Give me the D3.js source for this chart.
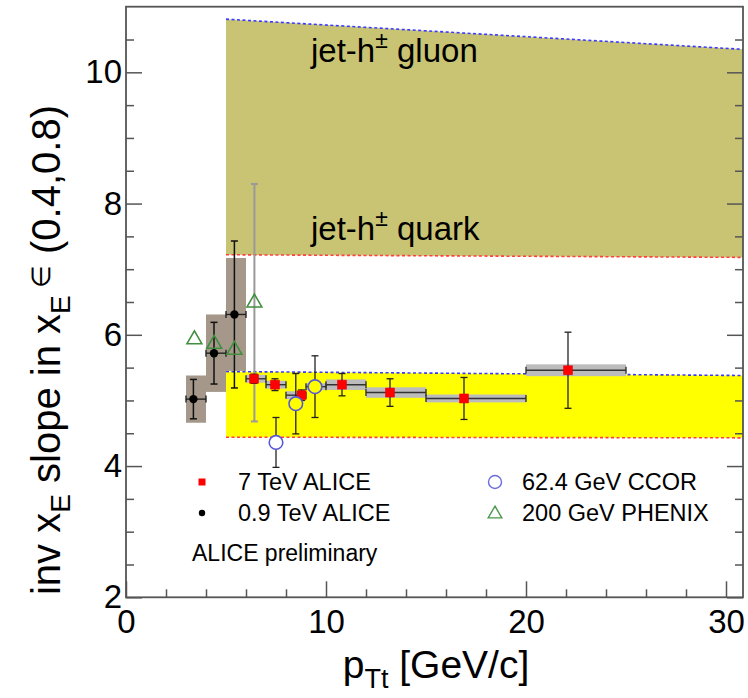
<!DOCTYPE html>
<html><head><meta charset="utf-8">
<script src="https://cdn.jsdelivr.net/npm/d3@7"></script>
<style>
body{margin:0;background:#fff}
svg{display:block}
text{font-family:"Liberation Sans",Arial,Helvetica,sans-serif;fill:#000}
</style>
</head><body>
<svg id="c" width="748" height="698"></svg>
<script>
// ---------- data ----------
const xTicks = [0, 10, 20, 30];
const yTicks = [2, 4, 6, 8, 10];
const xMinor = [2, 4, 6, 8, 12, 14, 16, 18, 22, 24, 26, 28];
const yMinor = [2.5, 3, 3.5, 4.5, 5, 5.5, 6.5, 7, 7.5, 8.5, 9, 9.5, 10.5];

const bandX = [5, 30.85];
const gluonTop = [10.81, 10.35];
const quarkLine = [7.22, 7.18];
const yellowTop = [5.44, 5.38];
const yellowBottom = [4.44, 4.43];

const alice7Lo = [6, 7, 8, 9, 10, 12, 15, 20];
const alice7Hi = [7, 8, 9, 10, 12, 15, 20, 25];
const alice7X = [6.4, 7.45, 8.78, 9.45, 10.8, 13.2, 16.9, 22.1];
const alice7Y = [5.33, 5.24, 5.08, 5.21, 5.24, 5.12, 5.03, 5.46];
const alice7Stat = [0.07, 0.09, 0.08, 0.08, 0.17, 0.21, 0.32, 0.58];
const alice7Sys = [0.06, 0.06, 0.06, 0.05, 0.08, 0.08, 0.06, 0.09];

const alice09Lo = [3, 4, 5];
const alice09Hi = [4, 5, 6];
const alice09X = [3.37, 4.4, 5.42];
const alice09Y = [5.02, 5.72, 6.31];
const alice09Stat = [0.30, 0.47, 1.12];
const alice09Sys = [0.36, 0.59, 0.86];

const ccorX = [7.5, 8.49, 9.45];
const ccorY = [4.36, 4.95, 5.21];
const ccorErr = [0.38, 0.46, 0.47];

const phenixX = [3.42, 4.41, 5.42, 6.42];
const phenixY = [5.93, 5.86, 5.77, 6.49];
const phenixErr = [0, 0, 0, 1.81];

const legendLabels = ["7 TeV ALICE", "0.9 TeV ALICE", "62.4 GeV CCOR", "200 GeV PHENIX"];

// ---------- drawing ----------
const svg = d3.select("#c");
const X0 = 126, X1 = 743, Y0 = 597.3, Y1 = 6.7;
const x = d3.scaleLinear([0, 30.85], [X0, X1]);
const y = d3.scaleLinear([2, 11], [Y0, Y1]);

const OLIVE = "#c9c473", YEL = "#ffff00";
const defs = svg.append("defs");
defs.append("clipPath").attr("id", "clip").append("rect")
  .attr("x", X0).attr("y", Y1).attr("width", X1 - X0).attr("height", Y0 - Y1);
const g = svg.append("g").attr("clip-path", "url(#clip)");

const line2 = (ys) => d3.line().x((d, i) => x(bandX[i])).y(d => y(d))(ys);
function band(top, bot, fill) {
  const pts = [[bandX[0], top[0]], [bandX[1], top[1]], [bandX[1], bot[1]], [bandX[0], bot[0]]];
  g.append("path").attr("d", d3.line().x(d => x(d[0])).y(d => y(d[1]))(pts) + "Z")
    .attr("fill", fill).attr("stroke", "none");
}
band(gluonTop, quarkLine, OLIVE);
band(yellowTop, yellowBottom, YEL);
function dash(ys, col) {
  g.append("path").attr("d", line2(ys)).attr("fill", "none")
    .attr("stroke", col).attr("stroke-width", 1.6).attr("stroke-dasharray", "3,2.5");
}
dash(gluonTop, "#3b3bff");
dash(quarkLine, "#ff4040");
dash(yellowTop, "#3b3bff");
dash(yellowBottom, "#ff4040");

// systematic boxes
const sysBox = (lo, hi, ys, sy, col) => {
  g.append("g").selectAll("rect").data(ys).join("rect")
    .attr("x", (d, i) => x(lo[i])).attr("width", (d, i) => x(hi[i]) - x(lo[i]))
    .attr("y", (d, i) => y(d + sy[i])).attr("height", (d, i) => y(d - sy[i]) - y(d + sy[i]))
    .attr("fill", col);
};
sysBox(alice09Lo, alice09Hi, alice09Y, alice09Sys, "#a5988a");
sysBox(alice7Lo, alice7Hi, alice7Y, alice7Sys, "#bcbcbc");

// error bars
function vErr(xs, ys, es, col, w) {
  const eg = g.append("g").attr("stroke", col).attr("stroke-width", w).attr("fill", "none");
  xs.forEach((xv, i) => {
    if (!es[i]) return;
    const px = x(xv), t = y(ys[i] + es[i]), b = y(ys[i] - es[i]);
    eg.append("line").attr("x1", px).attr("x2", px).attr("y1", t).attr("y2", b);
    eg.append("line").attr("x1", px - 3.5).attr("x2", px + 3.5).attr("y1", t).attr("y2", t);
    eg.append("line").attr("x1", px - 3.5).attr("x2", px + 3.5).attr("y1", b).attr("y2", b);
  });
}
function hErr(lo, hi, ys, col) {
  const eg = g.append("g").attr("stroke", col).attr("stroke-width", 1.4);
  ys.forEach((yv, i) => {
    const py = y(yv), l = x(lo[i]), r = x(hi[i]);
    eg.append("line").attr("x1", l).attr("x2", r).attr("y1", py).attr("y2", py);
    eg.append("line").attr("x1", l).attr("x2", l).attr("y1", py - 3.5).attr("y2", py + 3.5);
    eg.append("line").attr("x1", r).attr("x2", r).attr("y1", py - 3.5).attr("y2", py + 3.5);
  });
}
vErr(phenixX, phenixY, phenixErr, "#9a9a9a", 2);
hErr(alice09Lo, alice09Hi, alice09Y, "#222");
vErr(alice09X, alice09Y, alice09Stat, "#111", 1.5);
hErr(alice7Lo, alice7Hi, alice7Y, "#333");
vErr(alice7X, alice7Y, alice7Stat, "#222", 1.3);
vErr(ccorX, ccorY, ccorErr, "#222", 1.3);

// markers
const sq = d3.symbol(d3.symbolSquare, 81)();
const tri = d3.symbol(d3.symbolTriangle, 95)();
g.append("g").selectAll("path").data(alice7Y).join("path")
  .attr("d", sq).attr("transform", (d, i) => `translate(${x(alice7X[i])},${y(d)})`)
  .attr("fill", "#ff0000").attr("stroke", "#e00000").attr("stroke-width", 0.5);
g.append("g").selectAll("circle").data(alice09Y).join("circle")
  .attr("cx", (d, i) => x(alice09X[i])).attr("cy", d => y(d)).attr("r", 4.2).attr("fill", "#000");
g.append("g").selectAll("circle").data(ccorY).join("circle")
  .attr("cx", (d, i) => x(ccorX[i])).attr("cy", d => y(d)).attr("r", 6.8)
  .attr("fill", d => (d <= yellowTop[0] && d >= yellowBottom[0]) ? YEL : "#fff")
  .attr("stroke", "#5a5ad8").attr("stroke-width", 1.6);
g.append("g").selectAll("path").data(phenixY).join("path")
  .attr("d", tri).attr("transform", (d, i) => `translate(${x(phenixX[i])},${y(d)})`)
  .attr("fill", "none").attr("stroke", "#3f8f3f").attr("stroke-width", 1.6);

// axes
const axFont = 33;
const left = svg.append("g").attr("transform", `translate(${X0},0)`)
  .call(d3.axisLeft(y).tickValues(yTicks).tickSize(-16).tickSizeOuter(0).tickPadding(4).tickFormat(d3.format("d")));
svg.append("g").attr("transform", `translate(${X0},0)`)
  .call(d3.axisLeft(y).tickValues(yMinor).tickSize(-8).tickSizeOuter(0).tickFormat(""));
svg.append("g").attr("transform", `translate(${X1},0)`)
  .call(d3.axisRight(y).tickValues(yTicks).tickSize(-16).tickSizeOuter(0).tickFormat(""));
svg.append("g").attr("transform", `translate(${X1},0)`)
  .call(d3.axisRight(y).tickValues(yMinor).tickSize(-8).tickSizeOuter(0).tickFormat(""));
const bottom = svg.append("g").attr("transform", `translate(0,${Y0})`)
  .call(d3.axisBottom(x).tickValues(xTicks).tickSize(-16).tickSizeOuter(0).tickPadding(12).tickFormat(d3.format("d")));
svg.append("g").attr("transform", `translate(0,${Y0})`)
  .call(d3.axisBottom(x).tickValues(xMinor).tickSize(-8).tickSizeOuter(0).tickFormat(""));
svg.selectAll(".domain").remove();
svg.selectAll(".tick line").attr("stroke", "#555").attr("stroke-width", 1.5);
left.selectAll("text").attr("font-size", axFont).attr("font-family", null);
bottom.selectAll("text").attr("font-size", axFont).attr("font-family", null);
svg.append("rect").attr("x", X0).attr("y", Y1).attr("width", X1 - X0).attr("height", Y0 - Y1)
  .attr("fill", "none").attr("stroke", "#555").attr("stroke-width", 1.8);

// axis titles
const xt = svg.append("text").attr("x", 436).attr("y", 678).attr("text-anchor", "middle").attr("font-size", 39);
xt.append("tspan").text("p");
xt.append("tspan").attr("font-size", 27).attr("dy", 10).text("Tt");
xt.append("tspan").attr("dy", -10).text(" [GeV/c]");

const yt = svg.append("text").attr("transform", "translate(60,350) rotate(-90)")
  .attr("text-anchor", "middle").attr("font-size", 40);
yt.append("tspan").text("inv x");
yt.append("tspan").attr("font-size", 28).attr("dy", 10).text("E");
yt.append("tspan").attr("dy", -10).text(" slope in x");
yt.append("tspan").attr("font-size", 28).attr("dy", 10).text("E");
yt.append("tspan").attr("font-size", 26).attr("dy", -20).text(" \u2208");
yt.append("tspan").attr("dy", 10).text(" (0.4,0.8)");

// band labels
function bandLabel(px, py, word) {
  const t = svg.append("text").attr("x", px).attr("y", py).attr("font-size", 33);
  t.append("tspan").text("jet-h");
  t.append("tspan").attr("font-size", 23).attr("dy", -14).text("\u00b1");
  t.append("tspan").attr("dy", 14).text(" " + word);
}
bandLabel(x(9.25), y(10.16), "gluon");
bandLabel(x(9.25), y(7.45), "quark");

// legend
const lg = svg.append("g").attr("font-size", 23.5);
const rowY = [482, 513];
lg.append("path").attr("d", d3.symbol(d3.symbolSquare, 49)()).attr("transform", `translate(202,${rowY[0]})`).attr("fill", "#ff0000");
lg.append("circle").attr("cx", 202).attr("cy", rowY[1]).attr("r", 3.2).attr("fill", "#000");
lg.append("circle").attr("cx", 495).attr("cy", rowY[0]).attr("r", 6.5).attr("fill", "none").attr("stroke", "#6c6ce0").attr("stroke-width", 1.4);
lg.append("path").attr("d", d3.symbol(d3.symbolTriangle, 80)()).attr("transform", `translate(495,${rowY[1] + 1})`).attr("fill", "none").attr("stroke", "#4a984a").attr("stroke-width", 1.4);
[[238, rowY[0]], [238, rowY[1]], [522, rowY[0]], [522, rowY[1]]].forEach((p, i) => {
  lg.append("text").attr("x", p[0]).attr("y", p[1]).attr("dy", "0.36em").text(legendLabels[i]);
});
lg.append("text").attr("x", 192).attr("y", 553).attr("dy", "0.36em").attr("font-size", 23).text("ALICE preliminary");
</script>
</body></html>
